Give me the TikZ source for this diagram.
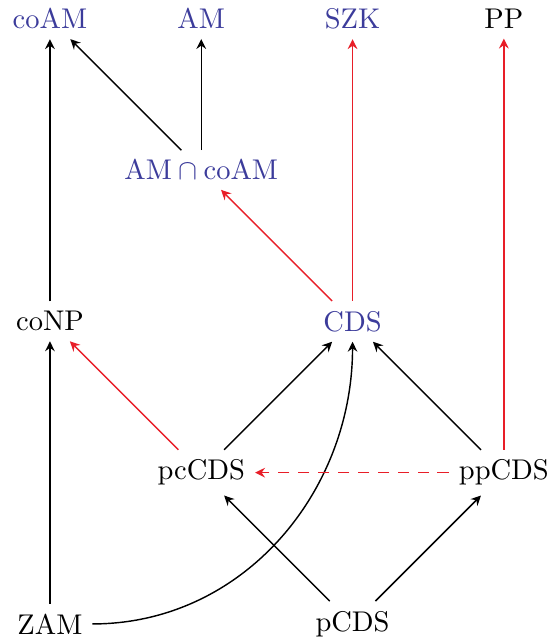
\documentclass[tikz,border=0pt]{standalone}
\usepackage{tikz}
\usetikzlibrary{arrows.meta}

\definecolor{qblue}{RGB}{60,60,155}
\definecolor{qred}{RGB}{232,30,40}
\newcommand{\edgescl}{1.866}
\newcommand{\coordscl}[1]{#1*\edgescl}
\tikzset{
  cls/.style={inner sep=3.33pt},
  qcls/.style={cls, text=qblue},
  inc/.style={-{Stealth[length=3.5pt, width=3.4pt, inset=1.2pt]}, line width=0.5pt},
  redinc/.style={inc, qred},
  dashinc/.style={dash pattern=on 4pt off 3pt},
}
\newcommand{\cn}{\node[cls]}
\newcommand{\qn}{\node[qcls]}

\begin{document}
\begin{tikzpicture}
            \useasboundingbox (-0.616,-0.198) rectangle (6.191,7.695);

            \qn (coam) at (\coordscl{0}, \coordscl{4}) {coAM};
            \qn (am) at (\coordscl{1}, \coordscl{4}) {AM};
            \qn (szk) at (\coordscl{2}, \coordscl{4}) {SZK};
            \cn (pp) at (\coordscl{3}, \coordscl{4}) {PP};
            \qn (amcap) at (\coordscl{1}, \coordscl{3}) {$\mathrm{AM}\cap\mathrm{coAM}$};
            \cn (conp) at (\coordscl{0}, \coordscl{2}) {coNP};
            \qn (cds) at (\coordscl{2}, \coordscl{2}) {CDS};
            \cn (pccds) at (\coordscl{1}, \coordscl{1}) {pcCDS};
            \cn (ppcds) at (\coordscl{3}, \coordscl{1}) {ppCDS};
            \cn (zam) at (\coordscl{0}, \coordscl{0}) {ZAM};
            \cn (pcds) at (\coordscl{2}, \coordscl{0}) {pCDS};

            \draw[inc]
                (conp) edge (coam)
                (amcap) edge (coam)
                (amcap) edge (am)
                (pccds) edge (cds)
                (ppcds) edge (cds)
                (zam) edge (conp)
                (pcds) edge (pccds)
                (pcds) edge (ppcds)
                (zam) edge[out=0, in=-90] (cds)
                ;

            \draw[redinc]
                (cds) edge (amcap)
                (cds) edge (szk)
                (ppcds) edge (pp)
                (pccds) edge (conp)
                (ppcds) edge[dashinc] (pccds)
                ;

\end{tikzpicture}
\end{document}
